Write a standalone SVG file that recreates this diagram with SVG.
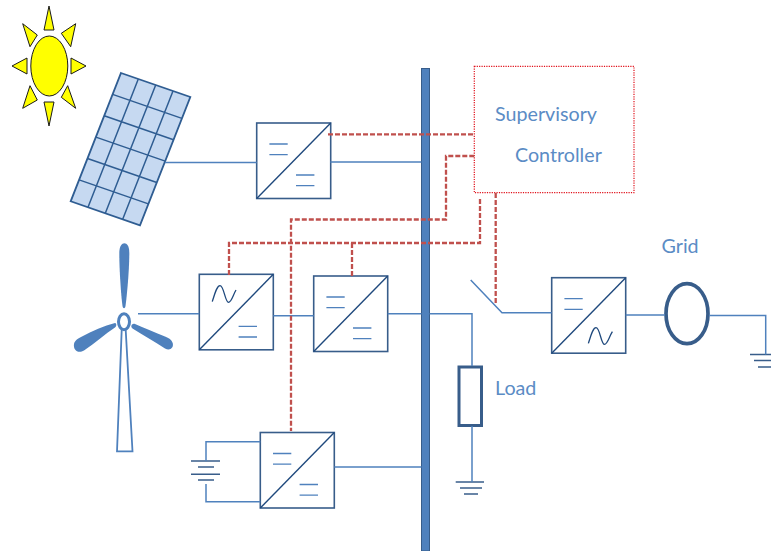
<svg xmlns="http://www.w3.org/2000/svg" xmlns:xlink="http://www.w3.org/1999/xlink" width="771" height="551" viewBox="0 0 771 551">
<style>
text{font-family:"Lato","Open Sans","Liberation Sans",sans-serif;font-size:19.7px;fill:#5b8cc5}
.w{fill:none;stroke:#4f81bd;stroke-width:1.5}
.d{fill:none;stroke:#385d8a;stroke-width:1.4}
.r{fill:none;stroke:#c0504d;stroke-width:2.3;stroke-dasharray:5 2}
.box{fill:#fff;stroke:#385d8a;stroke-width:1.6}
.diag{fill:none;stroke:#1f497d;stroke-width:1.4}
.bar{fill:none;stroke:#4f81bd;stroke-width:1.3}
.sine{fill:none;stroke:#1f497d;stroke-width:1.3}
.ray{fill:#ff0;stroke:#1a1a1a;stroke-width:1}
.pv{fill:none;stroke:#2f5d92;stroke-width:1.5}
.blade{fill:#4f81bd;stroke:none}
</style>
<defs>
<g id="conv">
<rect class="box" x="0" y="0" width="74" height="75.5"/>
<path class="diag" d="M0 75.5L74 0"/>
</g>
<path id="bars-top" class="bar" d="M12.7 21H31M12.7 31.7H31"/>
<path id="bars-low" class="bar" d="M39.3 52H57.7M39.3 62.7H57.7"/>
</defs>

<g id="sun">
<ellipse cx="49.3" cy="66" rx="18.5" ry="30" fill="#ff0" stroke="#1a1a1a" stroke-width="1"/>
<path class="ray" d="M49 6L44 30H54ZM49 126L44 102H54ZM12 66L27 58V74ZM86 66L71 58V74ZM75.7 23.7L61.3 33.3L70.7 46.7ZM22.7 23.7L37.3 35L30 46.7ZM22.7 108.3L30 85.7L37.3 100ZM75.7 108.3L67.7 85.7L61.3 97.3Z"/>
</g>

<g id="pv-panel">
<polygon points="121,73 190.3,97 140,225.3 70.7,201.3" fill="#c6d9f1" stroke="#2f5d92" stroke-width="1.8"/>
<path class="pv" d="M138.3 79L88 207.3M155.7 85L105.3 213.3M173 91L122.7 219.3M112.6 94.4L181.9 118.4M104.2 115.8L173.5 139.8M95.9 137.1L165.2 161.1M87.5 158.5L156.8 182.5M79.1 179.9L148.4 203.9"/>
</g>

<g id="wind-turbine">
<path class="blade" d="M119.3 253C119.3 246 122 243.3 124.3 243.3C127 243.3 129.3 246 129.3 253C129.3 270 127 295 125.5 306C125 309 123 309 122.5 306C121 295 119.3 270 119.3 253Z"/>
<path class="blade" d="M115 323C117 323.5 116.5 326.5 115 327.5C105 334 95 343 84 350.5C78 354 73 350 74 344C75 340 78 338.5 82 336.5C92 331 104 326 115 323Z"/>
<path class="blade" d="M132 324.5C131 325.5 131 327.5 132.5 328.5C143 335 155 342 165 348.5C170 351 174 348 172.7 343C171.5 339.5 169 338 165 336.5C154 332 144 328 135 324C134 323.7 133 323.7 132 324.5Z"/>
<path d="M121.7 330L117 451.3H132.5L125.7 330" fill="#fff" stroke="#4f81bd" stroke-width="1.8"/>
<ellipse cx="124" cy="321.7" rx="5.5" ry="8" fill="#fff" stroke="#4f81bd" stroke-width="3"/>
</g>

<g id="bus"><rect x="421.5" y="68.5" width="8" height="482.5" fill="#4f81bd" stroke="#385d8a" stroke-width="1"/></g>

<g id="conv-pv"><use xlink:href="#conv" x="256.7" y="123"/><use xlink:href="#bars-top" x="256.7" y="123"/><use xlink:href="#bars-low" x="256.7" y="123"/></g>
<g id="conv-wind"><use xlink:href="#conv" x="199.3" y="274.3"/><path class="sine" d="M212.3 301.6C215 293 217 285.6 220 285.6C224 285.6 225 302.3 228.5 302.3C231.5 302.3 233 295 236 290"/><use xlink:href="#bars-low" x="199.3" y="274.3"/></g>
<g id="conv-mid"><use xlink:href="#conv" x="313.7" y="276"/><use xlink:href="#bars-top" x="313.7" y="276"/><use xlink:href="#bars-low" x="313.7" y="276"/></g>
<g id="conv-battery"><use xlink:href="#conv" x="260.3" y="432.5"/><use xlink:href="#bars-top" x="260.3" y="432.5"/><use xlink:href="#bars-low" x="260.3" y="432.5"/></g>
<g id="conv-grid"><use xlink:href="#conv" x="551.7" y="277.7"/><use xlink:href="#bars-top" x="551.7" y="277.7"/><path class="sine" d="M588.4 343.4C591 335 593 327.7 596 327.7C600 327.7 601 344.4 604.5 344.4C607.5 344.4 609 337 612.4 331.7"/></g>

<g id="supervisory-controller">
<rect x="474.3" y="66.3" width="159.7" height="126.4" fill="none" stroke="#e0101a" stroke-width="1.2" stroke-dasharray="1.2 1.2"/>
<text x="495" y="121">Supervisory</text>
<text x="515" y="161.5">Controller</text>
</g>

<g id="load">
<rect x="459" y="367" width="22.5" height="58.5" fill="#fff" stroke="#385d8a" stroke-width="3"/>
<text x="495" y="394.5">Load</text>
<path class="d" d="M455.7 482H484M460 488H482M464 494H478"/>
</g>

<g id="battery"><path class="d" d="M191 461H220M198 467H214M191 474.3H220M198 480H214"/></g>

<g id="grid">
<ellipse cx="687" cy="313.7" rx="21" ry="30" fill="#fff" stroke="#385d8a" stroke-width="3.7"/>
<text x="661.5" y="252.5">Grid</text>
<path class="d" d="M750 354.5H771M754 360.5H771M758 367H771"/>
</g>

<g id="connectors">
<path class="w" d="M165 162.5H256.7M330.3 162H421.5M138 313.7H199.3M273.3 315.7H313.7M387.7 313.7H421.5M429.5 313.7H472V366M472 426V482M470.7 280L502 312.7H551.7M625.7 315H665M709 315.5H765.7V354.5M206 461V441.7H260.3M206 484V501.7H260.3M334.3 467H421.5"/>
<path class="r" d="M328 134.3H474.3M474.3 156H446V219.5H291V431M480 199V243H229V275M352 243V276M495.7 193V305"/>
</g>
</svg>
